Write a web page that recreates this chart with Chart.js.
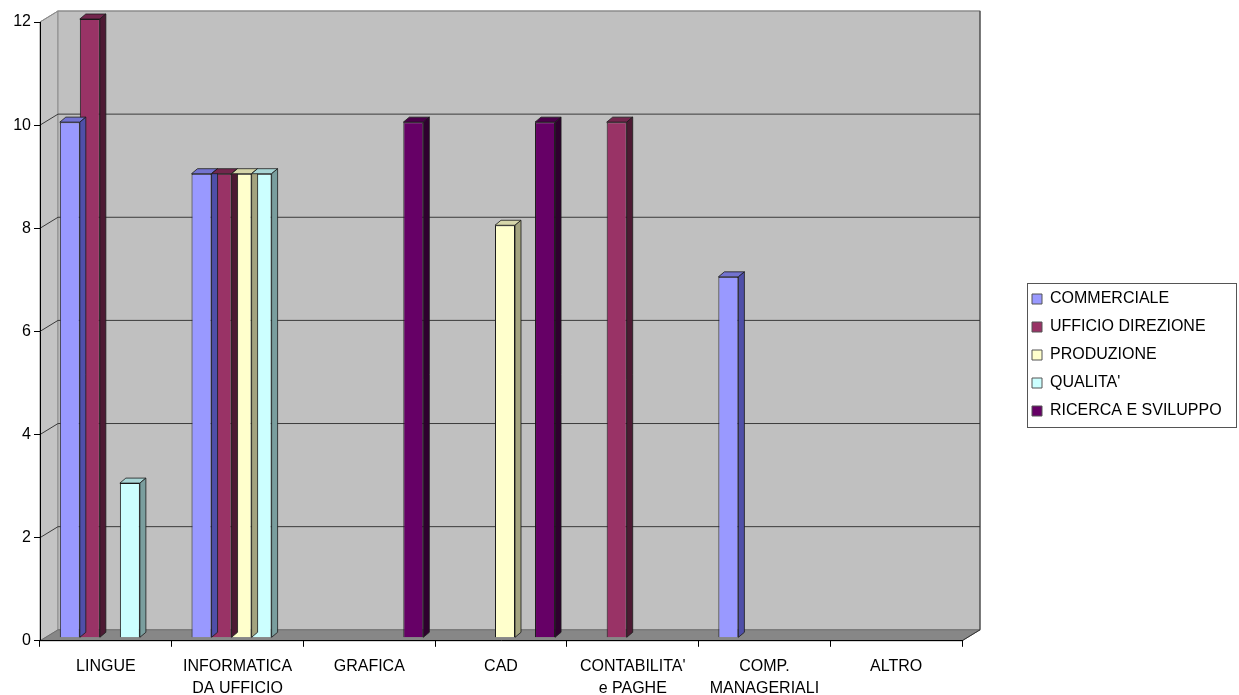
<!DOCTYPE html>
<html>
<head>
<meta charset="utf-8">
<script src="https://cdn.jsdelivr.net/npm/chart.js@4.4.1/dist/chart.umd.min.js"></script>
<style>
  html, body { margin: 0; padding: 0; background: #fff; }
  #wrap { width: 1239px; height: 695px; }
</style>
</head>
<body>
<div id="wrap"><canvas id="grafico"></canvas></div>
<script>
// Dati
const categorie = ['LINGUE', ['INFORMATICA', 'DA UFFICIO'], 'GRAFICA', 'CAD', ["CONTABILITA'", 'e PAGHE'], ['COMP.', 'MANAGERIALI'], 'ALTRO'];
const commerciale      = [10, 9, 0, 0, 0, 7, 0];
const ufficioDirezione = [12, 9, 0, 0, 10, 0, 0];
const produzione       = [0, 9, 0, 8, 0, 0, 0];
const qualita          = [3, 9, 0, 0, 0, 0, 0];
const ricercaSviluppo  = [0, 0, 10, 10, 0, 0, 0];
const yTicks = [0, 2, 4, 6, 8, 10, 12];

// colori: fronte, lato, sopra
const stili = [
    { label: 'COMMERCIALE',        data: commerciale,      front: '#9999FF', side: '#4F4FA8', top: '#7373D0' },
    { label: 'UFFICIO DIREZIONE',  data: ufficioDirezione, front: '#993366', side: '#4D1A33', top: '#73264D' },
    { label: 'PRODUZIONE',         data: produzione,       front: '#FFFFCC', side: '#A3A37F', top: '#D6D6AA' },
    { label: "QUALITA'",           data: qualita,          front: '#CCFFFF', side: '#7A9E9E', top: '#A8D6D6' },
    { label: 'RICERCA E SVILUPPO', data: ricercaSviluppo,  front: '#660066', side: '#2E002E', top: '#4A004A' }
];

// profondità della scena 3D
const DX = 18, DY = -11;      // pareti
const BX = 4, BY = -3;        // spostamento barre dentro la profondità
const PX = 6, PY = -5;        // spessore barre

const pseudo3d = {
    id: 'pseudo3d',
    afterLayout(chart) {
        // alza un po' la legenda
        chart.legend.top -= 10;
        chart.legend.bottom -= 10;
    },
    beforeDraw(chart) {
        const { ctx, chartArea: a, scales: { y } } = chart;
        const L = a.left, R = a.right, T = a.top, B = a.bottom;
        ctx.save();
        ctx.lineWidth = 1;
        // parete sinistra
        ctx.fillStyle = '#C4C4C4';
        ctx.strokeStyle = '#8C8C8C';
        ctx.beginPath();
        ctx.moveTo(L, T); ctx.lineTo(L + DX, T + DY); ctx.lineTo(L + DX, B + DY); ctx.lineTo(L, B);
        ctx.closePath(); ctx.fill(); ctx.stroke();
        // parete di fondo
        ctx.fillStyle = '#C0C0C0';
        ctx.fillRect(L + DX, T + DY, R - L, B - T);
        ctx.strokeRect(L + DX, T + DY, R - L, B - T);
        // pavimento
        ctx.fillStyle = '#878787';
        ctx.strokeStyle = '#6E6E6E';
        ctx.beginPath();
        ctx.moveTo(L, B); ctx.lineTo(L + DX, B + DY); ctx.lineTo(R + DX, B + DY); ctx.lineTo(R, B);
        ctx.closePath(); ctx.fill(); ctx.stroke();
        // griglia sulla parete
        yTicks.forEach(v => {
            if (v === 0) return;
            const py = y.getPixelForValue(v);
            ctx.strokeStyle = v === 12 ? '#8C8C8C' : '#3A3A3A';
            ctx.beginPath();
            ctx.moveTo(L, py); ctx.lineTo(L + DX, py + DY); ctx.lineTo(R + DX, py + DY);
            ctx.stroke();
        });
        // spigolo destro del pavimento
        ctx.strokeStyle = '#333';
        ctx.beginPath();
        ctx.moveTo(R, B); ctx.lineTo(R + DX, B + DY); ctx.lineTo(R + DX, T + DY);
        ctx.stroke();
        ctx.restore();
    },
    beforeDatasetsDraw(chart) {
        chart.ctx.save();
        chart.ctx.translate(BX, BY);
    },
    afterDatasetsDraw(chart) {
        const ctx = chart.ctx;
        chart.data.datasets.forEach((ds, i) => {
            const meta = chart.getDatasetMeta(i);
            meta.data.forEach((bar, j) => {
                if (!ds.data[j]) return;
                const { x, y, base, width } = bar.getProps(['x', 'y', 'base', 'width'], true);
                const l = x - width / 2, r = x + width / 2;
                ctx.lineWidth = 0.8;
                ctx.strokeStyle = '#1A1A1A';
                // faccia superiore
                ctx.fillStyle = stili[i].top;
                ctx.beginPath();
                ctx.moveTo(l, y); ctx.lineTo(l + PX, y + PY); ctx.lineTo(r + PX, y + PY); ctx.lineTo(r, y);
                ctx.closePath(); ctx.fill(); ctx.stroke();
                // faccia laterale
                ctx.fillStyle = stili[i].side;
                ctx.beginPath();
                ctx.moveTo(r, y); ctx.lineTo(r + PX, y + PY); ctx.lineTo(r + PX, base + PY); ctx.lineTo(r, base);
                ctx.closePath(); ctx.fill(); ctx.stroke();
            });
        });
        ctx.restore();
    },
    afterDraw(chart) {
        // cornice della legenda
        const boxes = chart.legend.legendHitBoxes;
        if (!boxes || !boxes.length) return;
        const ctx = chart.ctx;
        const x0 = boxes[0].left - 5;
        const x1 = Math.max(...boxes.map(b => b.left + b.width)) + 14;
        const y0 = boxes[0].top - 8;
        const y1 = boxes[boxes.length - 1].top + boxes[boxes.length - 1].height + 8;
        ctx.save();
        ctx.strokeStyle = '#555';
        ctx.lineWidth = 1;
        ctx.strokeRect(Math.round(x0) + 0.5, Math.round(y0) + 0.5, Math.round(x1 - x0), Math.round(y1 - y0));
        ctx.restore();
    }
};

const ctx = document.getElementById('grafico').getContext('2d');

new Chart(ctx, {
    type: 'bar',
    data: {
        labels: categorie,
        datasets: stili.map(s => ({
            label: s.label,
            data: s.data,
            backgroundColor: s.front,
            borderColor: '#1A1A1A',
            borderWidth: c => (c.raw ? 1 : 0),
            borderSkipped: 'start',
            categoryPercentage: 0.76,
            barPercentage: 1,
            clip: false
        }))
    },
    options: {
        responsive: true,
        maintainAspectRatio: false,
        animation: false,
        layout: { padding: { top: 22, left: 0, right: 15, bottom: -13 } },
        plugins: {
            legend: {
                position: 'right',
                labels: {
                    color: '#000',
                    font: { family: 'Liberation Sans, Arial, sans-serif', size: 16 },
                    boxWidth: 10,
                    boxHeight: 10,
                    padding: 12,
                    generateLabels(chart) {
                        return stili.map((s, i) => ({
                            text: s.label,
                            fillStyle: s.front,
                            strokeStyle: '#555',
                            lineWidth: 1,
                            fontColor: '#000',
                            datasetIndex: i,
                            hidden: false
                        }));
                    }
                }
            },
            tooltip: { enabled: false }
        },
        scales: {
            x: {
                ticks: {
                    color: '#000',
                    font: { family: 'Liberation Sans, Arial, sans-serif', size: 16, lineHeight: 1.35 },
                    padding: 9,
                    maxRotation: 0,
                    autoSkip: false
                },
                grid: { display: true, drawOnChartArea: false, drawTicks: true, tickLength: 6, color: '#000', offset: true },
                border: { display: true, color: '#000' }
            },
            y: {
                min: 0,
                max: 12,
                ticks: {
                    stepSize: 2,
                    color: '#000',
                    font: { family: 'Liberation Sans, Arial, sans-serif', size: 16 },
                    padding: 3
                },
                grid: { display: true, drawOnChartArea: false, drawTicks: true, tickLength: 6, color: '#000' },
                border: { display: true, color: '#000' },
                afterFit(scale) { scale.width = 40; }
            },
            spazio: {
                type: 'linear',
                position: 'right',
                display: true,
                ticks: { display: false },
                grid: { display: false, drawTicks: false },
                border: { display: false },
                afterFit(scale) { scale.width = 58; }
            }
        }
    },
    plugins: [pseudo3d]
});
</script>
</body>
</html>
